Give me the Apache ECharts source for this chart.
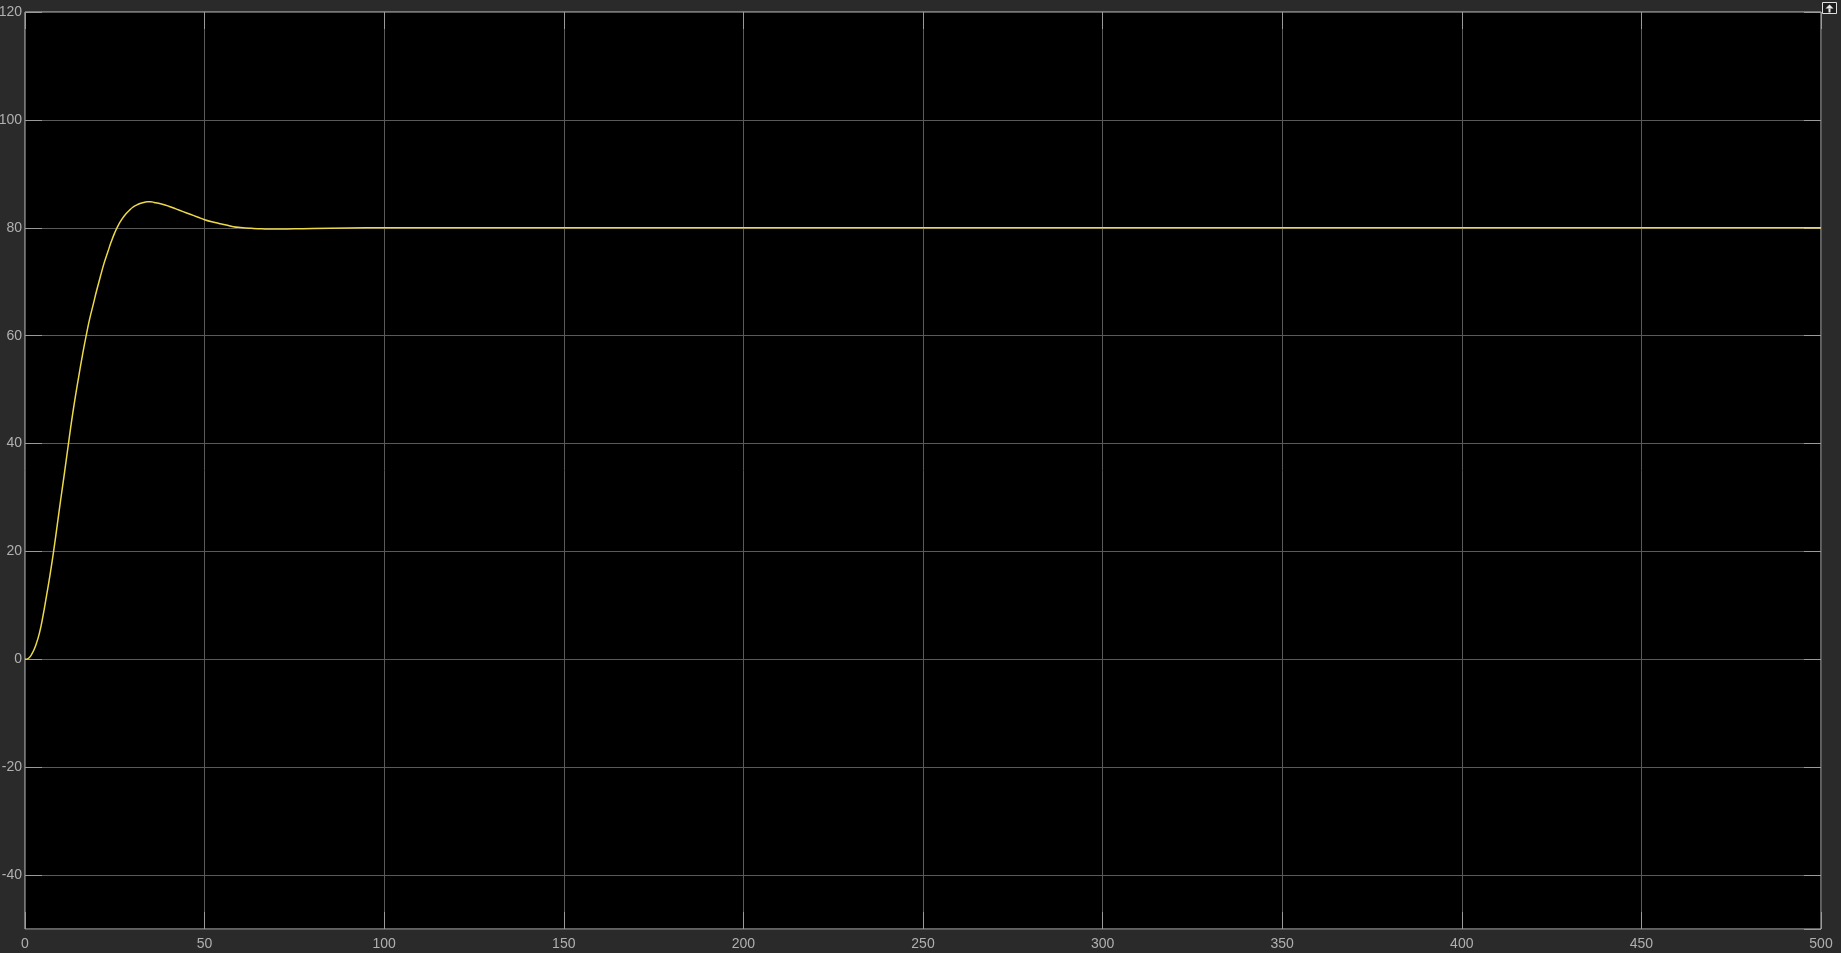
<!DOCTYPE html>
<html>
<head>
<meta charset="utf-8">
<style>
  html, body { margin: 0; padding: 0; background: #2a2a2a; }
  #scope { width: 1841px; height: 953px; }
</style>
<script src="https://cdn.jsdelivr.net/npm/echarts@6/dist/echarts.min.js"></script>
</head>
<body>
<div id="scope"></div>
<script>
// time (s) and scope output
const timeValues = [0, 1, 2, 3, 4, 5, 6, 7, 8, 9, 10, 11, 12, 13, 14, 15, 16, 17, 18, 19,
  20, 21, 22, 23, 24, 25, 26, 27, 28, 29, 30, 31, 32, 33, 34, 35, 36, 38, 40, 42,
  44, 46, 48, 50, 52, 54, 56, 58, 60, 63, 66, 70, 75, 80, 90, 100, 110, 130, 500];
const signalValues = [0, 0.2, 1.1, 2.6, 4.8, 8.0, 11.8, 15.8, 20.2, 25.0, 29.9, 34.6, 39.5, 44.3, 48.6, 52.6, 56.4, 59.9, 63.1, 65.8,
  68.5, 71.0, 73.4, 75.4, 77.4, 79.1, 80.5, 81.6, 82.5, 83.2, 83.8, 84.2, 84.5, 84.7, 84.8, 84.8, 84.7, 84.4, 84.0, 83.5,
  83.0, 82.5, 82.0, 81.5, 81.1, 80.8, 80.5, 80.2, 80.05, 79.9, 79.8, 79.75, 79.8, 79.85, 79.95, 80.0, 80.02, 80.0, 80.0];

const chart = echarts.init(document.getElementById('scope'));

const labelStyle = {
    color: '#b0b0b0',
    fontSize: 14,
    fontFamily: 'Liberation Sans, Arial, sans-serif',
};
const tickStyle = { show: true, inside: true, length: 17, lineStyle: { color: '#9a9a9a', width: 1 } };
const noLine = { show: false, onZero: false };

const option = {
    backgroundColor: '#2a2a2a',
    animation: false,
    grid: {
        left: 25,
        right: 20,
        top: 12,
        bottom: 24,
        containLabel: false,
        outerBoundsMode: 'none',
        show: true,
        backgroundColor: '#000000',
        borderColor: '#c4c4c4',
        borderWidth: 1,
    },
    xAxis: [
        {
            type: 'value',
            min: 0,
            max: 500,
            interval: 50,
            axisLine: noLine,
            axisTick: tickStyle,
            axisLabel: Object.assign({ margin: 8 }, labelStyle),
            splitLine: { show: true, lineStyle: { color: '#5a5a5a', width: 1 } },
        },
        {
            type: 'value',
            position: 'top',
            min: 0,
            max: 500,
            interval: 50,
            axisLine: noLine,
            axisTick: tickStyle,
            axisLabel: { show: false },
            splitLine: { show: false },
        },
    ],
    yAxis: [
        {
            type: 'value',
            min: -50,
            max: 120,
            splitNumber: 8,
            axisLine: noLine,
            axisTick: tickStyle,
            axisLabel: Object.assign({ margin: 3, showMinLabel: false }, labelStyle),
            splitLine: { show: true, lineStyle: { color: '#5a5a5a', width: 1 } },
        },
        {
            type: 'value',
            position: 'right',
            min: -50,
            max: 120,
            splitNumber: 8,
            axisLine: noLine,
            axisTick: tickStyle,
            axisLabel: { show: false },
            splitLine: { show: false },
        },
    ],
    // little undock button in the corner
    graphic: [
        {
            type: 'group',
            right: 4,
            top: 2,
            children: [
                { type: 'rect', shape: { x: 0, y: 0, width: 14, height: 11 }, style: { fill: '#1c1c1c', stroke: '#e0e0e0', lineWidth: 1 } },
                { type: 'polygon', shape: { points: [[7, 2], [11, 6], [3, 6]] }, style: { fill: '#e8e8e8' } },
                { type: 'rect', shape: { x: 6, y: 6, width: 2, height: 4 }, style: { fill: '#e8e8e8' } },
            ],
        },
    ],
    series: [
        {
            type: 'line',
            xAxisIndex: 0,
            yAxisIndex: 0,
            showSymbol: false,
            smooth: true,
            lineStyle: { color: '#ecd94a', width: 1.5 },
            data: timeValues.map((t, i) => [t, signalValues[i]]),
        },
    ],
};
chart.setOption(option);
</script>
</body>
</html>
